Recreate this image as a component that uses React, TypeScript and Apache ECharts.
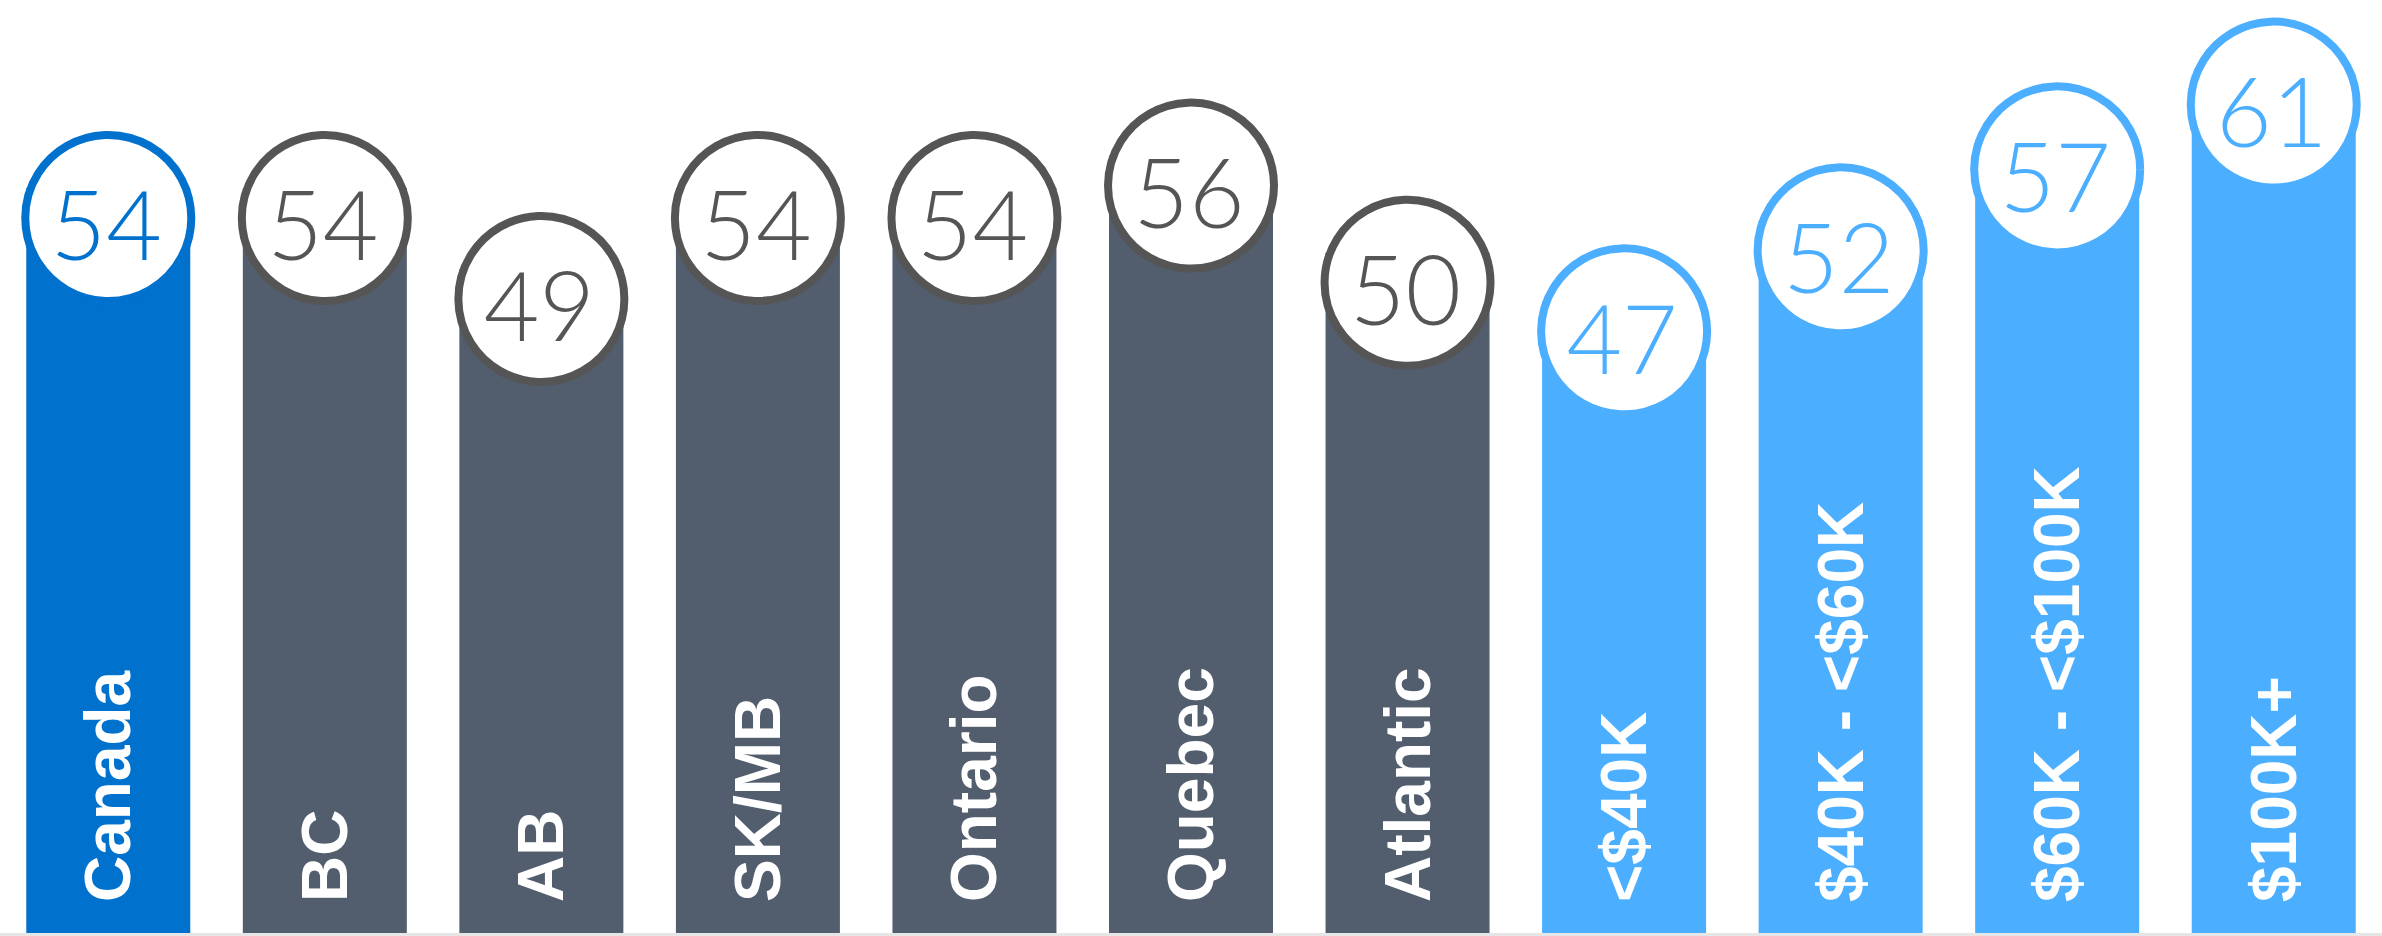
import React, { useEffect, useRef } from "react";
import * as echarts from "echarts";

const categories = ["Canada", "BC", "AB", "SK/MB", "Ontario", "Quebec", "Atlantic", "<$40K", "$40K - <$60K", "$60K - <$100K", "$100K+"];
const values = [54, 54, 49, 54, 54, 56, 50, 47, 52, 57, 61];
const groups = ["total", "region", "region", "region", "region", "region", "region", "income", "income", "income", "income"];

const barColors: Record<string, string> = { total: "#0071CD", region: "#525E6E", income: "#4BAEFF" };
const ringColors: Record<string, string> = { total: "#0071CD", region: "#555555", income: "#4BAEFF" };

export default function App() {
  const ref = useRef<HTMLDivElement>(null);
  useEffect(() => {
    if (!ref.current) return;
    const chart = echarts.init(ref.current, null, { renderer: "svg" });
    chart.setOption({
      animation: false,
      backgroundColor: "#ffffff",
      grid: { left: -2, right: -7, top: 26, bottom: 3 },
      xAxis: {
        type: "category",
        data: categories,
        axisLine: { show: true, onZero: false, lineStyle: { color: "#e6e6e6", width: 3 } },
        offset: 1.5,
        axisTick: { show: false },
        axisLabel: { show: false },
      },
      yAxis: {
        type: "value",
        min: 8,
        max: 64,
        show: false,
        splitLine: { show: false },
      },
      series: [
        {
          type: "bar",
          barWidth: 164,
          z: 2,
          data: values.map((v, i) => ({ value: v, itemStyle: { color: barColors[groups[i]] } })),
          label: {
            show: true,
            position: "insideBottom",
            rotate: 90,
            align: "left",
            verticalAlign: "middle",
            distance: 31,
            offset: [0, 0],
            formatter: (p: any) => p.name,
            color: "#ffffff",
            fontFamily: "Liberation Sans, Arial, sans-serif",
            fontWeight: "bold",
            fontSize: 64,
          },
        },
        {
          type: "scatter",
          z: 5,
          symbol: "circle",
          symbolSize: 166,
          symbolOffset: [0, 30],
          itemStyle: { opacity: 1 },
          emphasis: { disabled: true },
          data: values.map((v, i) => ({
            value: v,
            itemStyle: { color: "#ffffff", opacity: 1, borderColor: ringColors[groups[i]], borderWidth: 8 },
            label: { color: ringColors[groups[i]] },
          })),
          label: {
            show: true,
            position: "inside",
            offset: [-2, 5],
            formatter: (p: any) => String(p.value),
            fontFamily: "Lato, 'Open Sans', sans-serif",
            fontWeight: 300,
            fontSize: 96,
          },
        },
      ],
    });
    return () => chart.dispose();
  }, []);
  return (
    <div
      ref={ref}
      style={{ position: "fixed", left: 0, top: 0, width: 2382, height: 936, background: "#fff" }}
    />
  );
}
